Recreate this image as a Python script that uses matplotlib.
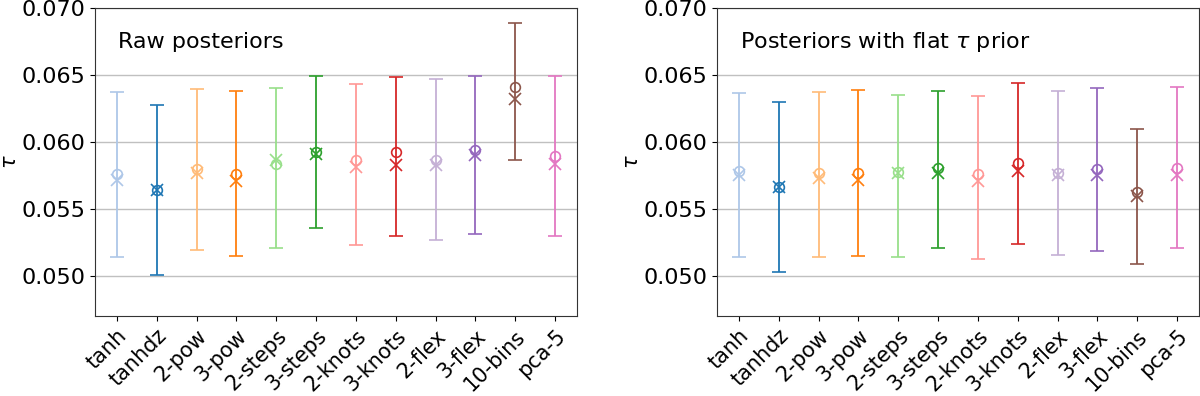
import matplotlib
matplotlib.use('Agg')
import matplotlib.pyplot as plt
import numpy as np

# model names
models = ['tanh', 'tanhdz', '2-pow', '3-pow', '2-steps', '3-steps',
          '2-knots', '3-knots', '2-flex', '3-flex', '10-bins', 'pca-5']

colors = ['#aec7e8', '#1f77b4', '#ffbb78', '#ff7f0e', '#98df8a', '#2ca02c',
          '#ff9896', '#d62728', '#c5b0d5', '#9467bd', '#8c564b', '#e377c2']

# raw posteriors
raw_mean = [0.05761, 0.05642, 0.05799, 0.05761, 0.05836, 0.05925,
            0.05861, 0.05925, 0.05868, 0.05938, 0.06410, 0.05898]
raw_median = [0.05719, 0.05642, 0.05769, 0.05706, 0.05868, 0.05913,
              0.05811, 0.05826, 0.05831, 0.05900, 0.06323, 0.05836]
raw_lo = [0.05144, 0.05007, 0.05191, 0.05147, 0.05211, 0.05356,
          0.05229, 0.05301, 0.05268, 0.05313, 0.05868, 0.05294]
raw_hi = [0.06376, 0.06276, 0.06396, 0.06378, 0.06400, 0.06493,
          0.06430, 0.06485, 0.06470, 0.06495, 0.06886, 0.06495]

# posteriors with flat tau prior
flat_mean = [0.05781, 0.05664, 0.05764, 0.05766, 0.05776, 0.05803,
             0.05759, 0.05841, 0.05771, 0.05796, 0.05627, 0.05806]
flat_median = [0.05756, 0.05664, 0.05731, 0.05719, 0.05769, 0.05764,
               0.05706, 0.05781, 0.05756, 0.05756, 0.05595, 0.05756]
flat_lo = [0.05139, 0.05032, 0.05144, 0.05147, 0.05144, 0.05211,
           0.05122, 0.05236, 0.05152, 0.05184, 0.05085, 0.05204]
flat_hi = [0.06366, 0.06301, 0.06373, 0.06388, 0.06351, 0.06378,
           0.06341, 0.06443, 0.06378, 0.06400, 0.06094, 0.06408]

fig = plt.figure(figsize=(12, 3.96), dpi=100)
ax1 = fig.add_axes([0.0792, 0.202, 0.4017, 0.778])
ax2 = fig.add_axes([0.5975, 0.202, 0.4017, 0.778])

panels = [
    (ax1, raw_mean, raw_median, raw_lo, raw_hi, 'Raw posteriors'),
    (ax2, flat_mean, flat_median, flat_lo, flat_hi, r'Posteriors with flat $\tau$ prior'),
]

for ax, mean, median, lo, hi, title in panels:
    x = np.arange(len(models))
    for i in range(len(models)):
        ax.errorbar(x[i], mean[i], yerr=[[mean[i] - lo[i]], [hi[i] - mean[i]]],
                    fmt='o', mfc='none', mec=colors[i], color=colors[i],
                    ms=7, mew=1.2, elinewidth=1.3, capsize=5, capthick=1.3)
        ax.plot(x[i], median[i], 'x', color=colors[i], ms=8, mew=1.2)
    ax.set_ylim(0.047, 0.070)
    ax.set_yticks([0.050, 0.055, 0.060, 0.065, 0.070])
    ax.yaxis.grid(True, color='#c0c0c0', lw=1)
    ax.set_axisbelow(True)
    ax.set_xticks(x)
    ax.set_xticklabels(models, rotation=45, ha='right', rotation_mode='anchor', fontsize=15)
    ax.tick_params(axis='y', labelsize=16)
    ax.set_ylabel(r'$\tau$', fontsize=15, labelpad=1)
    ax.text(0.048, 0.87, title, transform=ax.transAxes, fontsize=16, va='baseline')
    for s in ax.spines.values():
        s.set_color('#333333')

plt.savefig('out.png', dpi=100)
